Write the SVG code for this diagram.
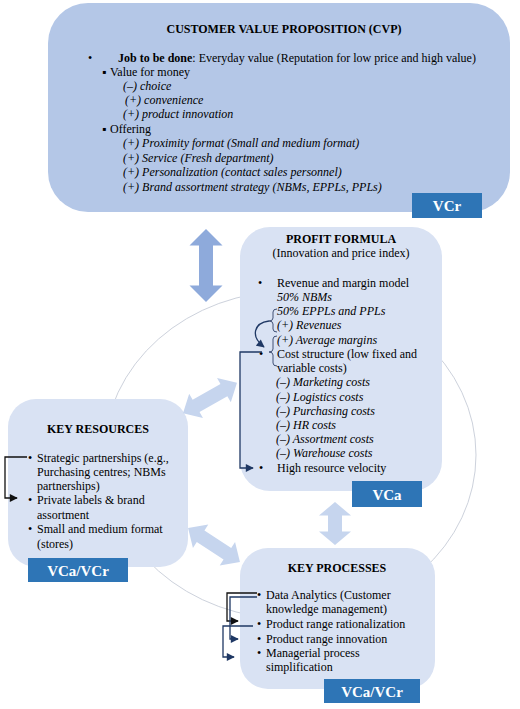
<svg xmlns="http://www.w3.org/2000/svg" width="520" height="709" viewBox="0 0 520 709">
<style>
  .t { font-family: "Liberation Serif", "Times New Roman", serif; font-size: 12px; fill: #000; }
  .b { font-weight: bold; }
  .i { font-style: italic; }
  .m { text-anchor: middle; }
  .cvp { fill: #b4c7e7; }
  .box { fill: #d9e2f3; }
  .tag { fill: #2e75b6; }
  .tagt { font-family: "Liberation Serif", "Times New Roman", serif; font-size: 15px; font-weight: bold; fill: #fff; text-anchor: middle; }
  .dark { fill: #8eaadb; }
  .light { fill: #c6d5ee; }
  .ln { fill: none; stroke: #1f3864; stroke-width: 1.3; }
  .lk { fill: none; stroke: #111; stroke-width: 1.3; }
  .br { fill: none; stroke: #2f3f66; stroke-width: 0.9; }
  .cyc { fill: none; stroke: #cdd2dc; stroke-width: 1; }
</style>
<defs>
  <marker id="ah" viewBox="0 0 10 10" refX="9" refY="5" markerUnits="userSpaceOnUse" markerWidth="9" markerHeight="8" orient="auto">
    <path d="M0,0 L10,5 L0,10 z" fill="#1f3864"/>
  </marker>
  <marker id="ahk" viewBox="0 0 10 10" refX="9" refY="5" markerUnits="userSpaceOnUse" markerWidth="9" markerHeight="8" orient="auto">
    <path d="M0,0 L10,5 L0,10 z" fill="#111"/>
  </marker>
</defs>

<g id="cycle">
  <ellipse class="cyc" cx="290" cy="455" rx="186" ry="164"/>
</g>

<g id="cvp">
  <rect class="cvp" x="48" y="3" width="462" height="209" rx="40"/>
  <text class="t b m" x="284" y="33">CUSTOMER VALUE  PROPOSITION (CVP)</text>
  <text class="t" x="88" y="62">•</text>
  <text class="t" x="118" y="62"><tspan class="b">Job to be done</tspan>: Everyday value (Reputation for low price and high value)</text>
  <text class="t" x="102" y="76">▪</text>
  <text class="t" x="110" y="76">Value  for money</text>
  <text class="t i" x="123" y="90">(–) choice</text>
  <text class="t i" x="125" y="104">(+) convenience</text>
  <text class="t i" x="123" y="118">(+) product innovation</text>
  <text class="t" x="102" y="133">▪</text>
  <text class="t" x="110" y="133">Offering</text>
  <text class="t i" x="123" y="147">(+) Proximity format (Small and medium format)</text>
  <text class="t i" x="123" y="162">(+) Service (Fresh department)</text>
  <text class="t i" x="123" y="176">(+) Personalization (contact sales personnel)</text>
  <text class="t i" x="123" y="191">(+) Brand assortment strategy (NBMs, EPPLs, PPLs)</text>
  <rect class="tag" x="412" y="193" width="70" height="25"/>
  <text class="tagt" x="447" y="211">VCr</text>
</g>

<g id="profit-formula">
  <rect class="box" x="240" y="227" width="202" height="264" rx="30"/>
  <text class="t b m" x="341" y="243">PROFIT FORMULA</text>
  <text class="t m" x="341" y="257">(Innovation and price index)</text>
  <text class="t" x="258" y="287">•</text>
  <text class="t" x="277" y="287">Revenue and margin model</text>
  <text class="t i" x="277" y="301">50% NBMs</text>
  <text class="t i" x="277" y="315">50% EPPLs and PPLs</text>
  <text class="t i" x="277" y="329">(+) Revenues</text>
  <text class="t i" x="277" y="344">(+) Average margins</text>
  <text class="t" x="259" y="358">•</text>
  <text class="t" x="277" y="358">Cost structure (low fixed and</text>
  <text class="t" x="277" y="372">variable   costs)</text>
  <text class="t i" x="276" y="386">(–) Marketing costs</text>
  <text class="t i" x="276" y="401">(–) Logistics costs</text>
  <text class="t i" x="276" y="415">(–) Purchasing costs</text>
  <text class="t i" x="276" y="429">(–) HR costs</text>
  <text class="t i" x="276" y="443">(–) Assortment costs</text>
  <text class="t i" x="276" y="457">(–) Warehouse costs</text>
  <text class="t" x="259" y="472">•</text>
  <text class="t" x="277" y="472">High resource velocity</text>
  <path class="br" d="M277,309 Q273,309 273,312 V318 Q273,321 269,321 Q273,321 273,324 V329 Q273,332 277,332"/>
  <path class="br" d="M277,336 Q273,336 273,339 V349 Q273,352 269,352 Q273,352 273,355 V363 Q273,366 277,366"/>
  <rect class="tag" x="352" y="481" width="70" height="26"/>
  <text class="tagt" x="387" y="500">VCa</text>
</g>

<g id="key-resources">
  <rect class="box" x="8" y="399" width="180" height="168" rx="28"/>
  <text class="t b m" x="98" y="433">KEY RESOURCES</text>
  <text class="t" x="28" y="462">•</text>
  <text class="t" x="37" y="462">Strategic partnerships (e.g.,</text>
  <text class="t" x="37" y="476">Purchasing centres; NBMs</text>
  <text class="t" x="37" y="490">partnerships)</text>
  <text class="t" x="28" y="504">•</text>
  <text class="t" x="37" y="504">Private labels &amp; brand</text>
  <text class="t" x="37" y="519">assortment</text>
  <text class="t" x="28" y="533">•</text>
  <text class="t" x="37" y="533">Small and medium  format</text>
  <text class="t" x="37" y="548">(stores)</text>
  <rect class="tag" x="28" y="558" width="100" height="24"/>
  <text class="tagt" x="78" y="576">VCa/VCr</text>
</g>

<g id="key-processes">
  <rect class="box" x="240" y="548" width="195" height="141" rx="28"/>
  <text class="t b m" x="337" y="572">KEY PROCESSES</text>
  <text class="t" x="257" y="599">•</text>
  <text class="t" x="266" y="599">Data Analytics (Customer</text>
  <text class="t" x="266" y="613">knowledge  management)</text>
  <text class="t" x="257" y="628">•</text>
  <text class="t" x="266" y="628">Product range  rationalization</text>
  <text class="t" x="257" y="643">•</text>
  <text class="t" x="266" y="643">Product range  innovation</text>
  <text class="t" x="257" y="657">•</text>
  <text class="t" x="266" y="657">Managerial  process</text>
  <text class="t" x="266" y="671">simplification</text>
  <rect class="tag" x="324" y="679" width="96" height="24"/>
  <text class="tagt" x="372" y="697">VCa/VCr</text>
</g>

<g id="connectors">
  <polygon class="dark" transform="translate(206,265.5) rotate(90)" points="-36.5,0 -20,-16.5 -20,-7 20,-7 20,-16.5 36.5,0 20,16.5 20,7 -20,7 -20,16.5"/>
  <polygon class="light" transform="translate(210,398) rotate(-29.5)" points="-31,0 -16,-14 -16,-7 16,-7 16,-14 31,0 16,14 16,7 -16,7 -16,14"/>
  <polygon class="light" transform="translate(214,545) rotate(33.2)" points="-31,0 -16,-14 -16,-7 16,-7 16,-14 31,0 16,14 16,7 -16,7 -16,14"/>
  <polygon class="light" transform="translate(335,523.5) rotate(90)" points="-21.5,0 -8,-16 -8,-7 8,-7 8,-16 21.5,0 8,16 8,7 -8,7 -8,16"/>
  <path class="ln" d="M269,321 C254,323 250,336 264,347" marker-end="url(#ah)"/>
  <path class="ln" d="M262,352 H240 V468 H253" marker-end="url(#ah)"/>
  <path class="lk" d="M27,457 H5 V498 H17" marker-end="url(#ahk)"/>
  <path class="lk" d="M257,593 H227 V621 H238" marker-end="url(#ahk)"/>
  <path class="ln" d="M257,597 H230 V639 H238" marker-end="url(#ah)"/>
  <path class="ln" d="M253,626 H223 V657 H234" marker-end="url(#ah)"/>
</g>
</svg>
